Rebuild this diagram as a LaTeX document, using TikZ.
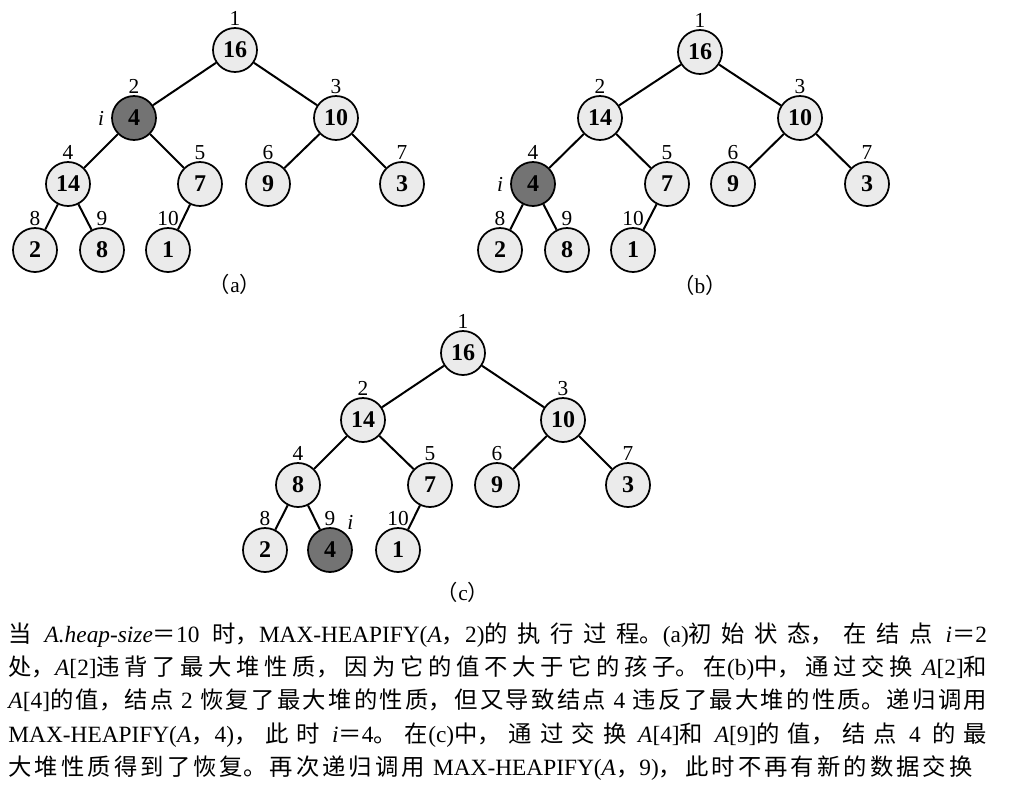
\documentclass[tikz,border=0pt]{standalone}
\usepackage{fontspec}
\setmainfont{Liberation Serif}
\newfontfamily\cjk{Noto Sans CJK SC}
\XeTeXlinebreaklocale "zh"
\XeTeXlinebreakskip=0pt plus 3pt minus 0.6pt
\newcommand\en[1]{{\rmfamily #1}}

\tikzset{every picture/.style={line width=0.75pt}}
\tikzset{
  heapnode/.style={circle, draw, line width=1.3pt, fill=black!8, minimum size=33pt, inner sep=0pt, font=\fontsize{18}{18}\selectfont\bfseries},
  curnode/.style={heapnode, fill=black!55},
  idx/.style={font=\fontsize{16}{16}\selectfont, inner sep=1pt, label distance=0pt},
  cur/.style={font=\fontsize{16}{16}\selectfont\itshape, inner sep=1pt, label distance=4pt},
  treeedge/.style={line width=1.5pt},
  subcap/.style={font=\fontsize{16}{16}\selectfont, inner sep=0pt},
}

\begin{document}
\begin{tikzpicture}[x=0.75pt,y=0.75pt,yscale=-1,xscale=1]
\useasboundingbox (0,0) rectangle (1032,786);

%Tree (a)
\node [heapnode, label={[idx]above:1}] (a1) at (235,50) {16};
\node [curnode, label={[idx]above:2}, label={[cur]left:i}] (a2) at (134,118) {4};
\node [heapnode, label={[idx]above:3}] (a3) at (336,118) {10};
\node [heapnode, label={[idx]above:4}] (a4) at (68,184) {14};
\node [heapnode, label={[idx]above:5}] (a5) at (200,184) {7};
\node [heapnode, label={[idx]above:6}] (a6) at (268,184) {9};
\node [heapnode, label={[idx]above:7}] (a7) at (402,184) {3};
\node [heapnode, label={[idx]above:8}] (a8) at (35,250) {2};
\node [heapnode, label={[idx]above:9}] (a9) at (102,250) {8};
\node [heapnode, label={[idx]above:10}] (a10) at (168,250) {1};
\draw [treeedge] (a1) -- (a2) (a1) -- (a3) (a2) -- (a4) (a2) -- (a5) (a3) -- (a6) (a3) -- (a7) (a4) -- (a8) (a4) -- (a9) (a5) -- (a10);
% Text Node
\node [subcap] (capa) at (235,284) {{\cjk （}a{\cjk ）}};

%Tree (b)
\node [heapnode, label={[idx]above:1}] (b1) at (700,52) {16};
\node [heapnode, label={[idx]above:2}] (b2) at (600,118) {14};
\node [heapnode, label={[idx]above:3}] (b3) at (800,118) {10};
\node [curnode, label={[idx]above:4}, label={[cur]left:i}] (b4) at (533,184) {4};
\node [heapnode, label={[idx]above:5}] (b5) at (667,184) {7};
\node [heapnode, label={[idx]above:6}] (b6) at (733,184) {9};
\node [heapnode, label={[idx]above:7}] (b7) at (867,184) {3};
\node [heapnode, label={[idx]above:8}] (b8) at (500,250) {2};
\node [heapnode, label={[idx]above:9}] (b9) at (567,250) {8};
\node [heapnode, label={[idx]above:10}] (b10) at (633,250) {1};
\draw [treeedge] (b1) -- (b2) (b1) -- (b3) (b2) -- (b4) (b2) -- (b5) (b3) -- (b6) (b3) -- (b7) (b4) -- (b8) (b4) -- (b9) (b5) -- (b10);
% Text Node
\node [subcap] (capb) at (700,285) {{\cjk （}b{\cjk ）}};

%Tree (c)
\node [heapnode, label={[idx]above:1}] (c1) at (463,353) {16};
\node [heapnode, label={[idx]above:2}] (c2) at (363,420) {14};
\node [heapnode, label={[idx]above:3}] (c3) at (563,420) {10};
\node [heapnode, label={[idx]above:4}] (c4) at (298,485) {8};
\node [heapnode, label={[idx]above:5}] (c5) at (430,485) {7};
\node [heapnode, label={[idx]above:6}] (c6) at (497,485) {9};
\node [heapnode, label={[idx]above:7}] (c7) at (628,485) {3};
\node [heapnode, label={[idx]above:8}] (c8) at (265,550) {2};
\node [curnode, label={[idx]above:9}, label={[cur,label distance=1pt]50:i}] (c9) at (330,550) {4};
\node [heapnode, label={[idx]above:10}] (c10) at (398,550) {1};
\draw [treeedge] (c1) -- (c2) (c1) -- (c3) (c2) -- (c4) (c2) -- (c5) (c3) -- (c6) (c3) -- (c7) (c4) -- (c8) (c4) -- (c9) (c5) -- (c10);
% Text Node
\node [subcap] (capc) at (463,592) {{\cjk （}c{\cjk ）}};

% Text Node
\node [anchor=north west, inner sep=0pt, text width=734pt, align=justify, font=\cjk\fontsize{17.5}{25}\selectfont] (note) at (8,622) {\tolerance=9999 \parfillskip=0pt plus 14pt
当\en{ \textit{A.heap-size}}＝\en{10 }时，\en{MAX-HEAPIFY(\textit{A}}，\en{2)}的执行过程。\en{(a)}初始状态，在结点\en{ \textit{i}}＝\en{2}\linebreak
处，\en{\textit{A}[2]}违背了最大堆性质，因为它的值不大于它的孩子。在\en{(b)}中，通过交换\en{ \textit{A}[2]}和\linebreak
\en{\textit{A}[4]}的值，结点\en{ 2 }恢复了最大堆的性质，但又导致结点\en{ 4 }违反了最大堆的性质。递归调用\linebreak
\en{MAX-HEAPIFY(\textit{A}}，\en{4)}，此时\en{ \textit{i}}＝\en{4}。在\en{(c)}中，通过交换\en{ \textit{A}[4]}和\en{ \textit{A}[9]}的值，结点\en{ 4 }的最\linebreak
大堆性质得到了恢复。再次递归调用\en{ MAX-HEAPIFY(\textit{A}}，\en{9)}，此时不再有新的数据交换\par};

\end{tikzpicture}
\end{document}
